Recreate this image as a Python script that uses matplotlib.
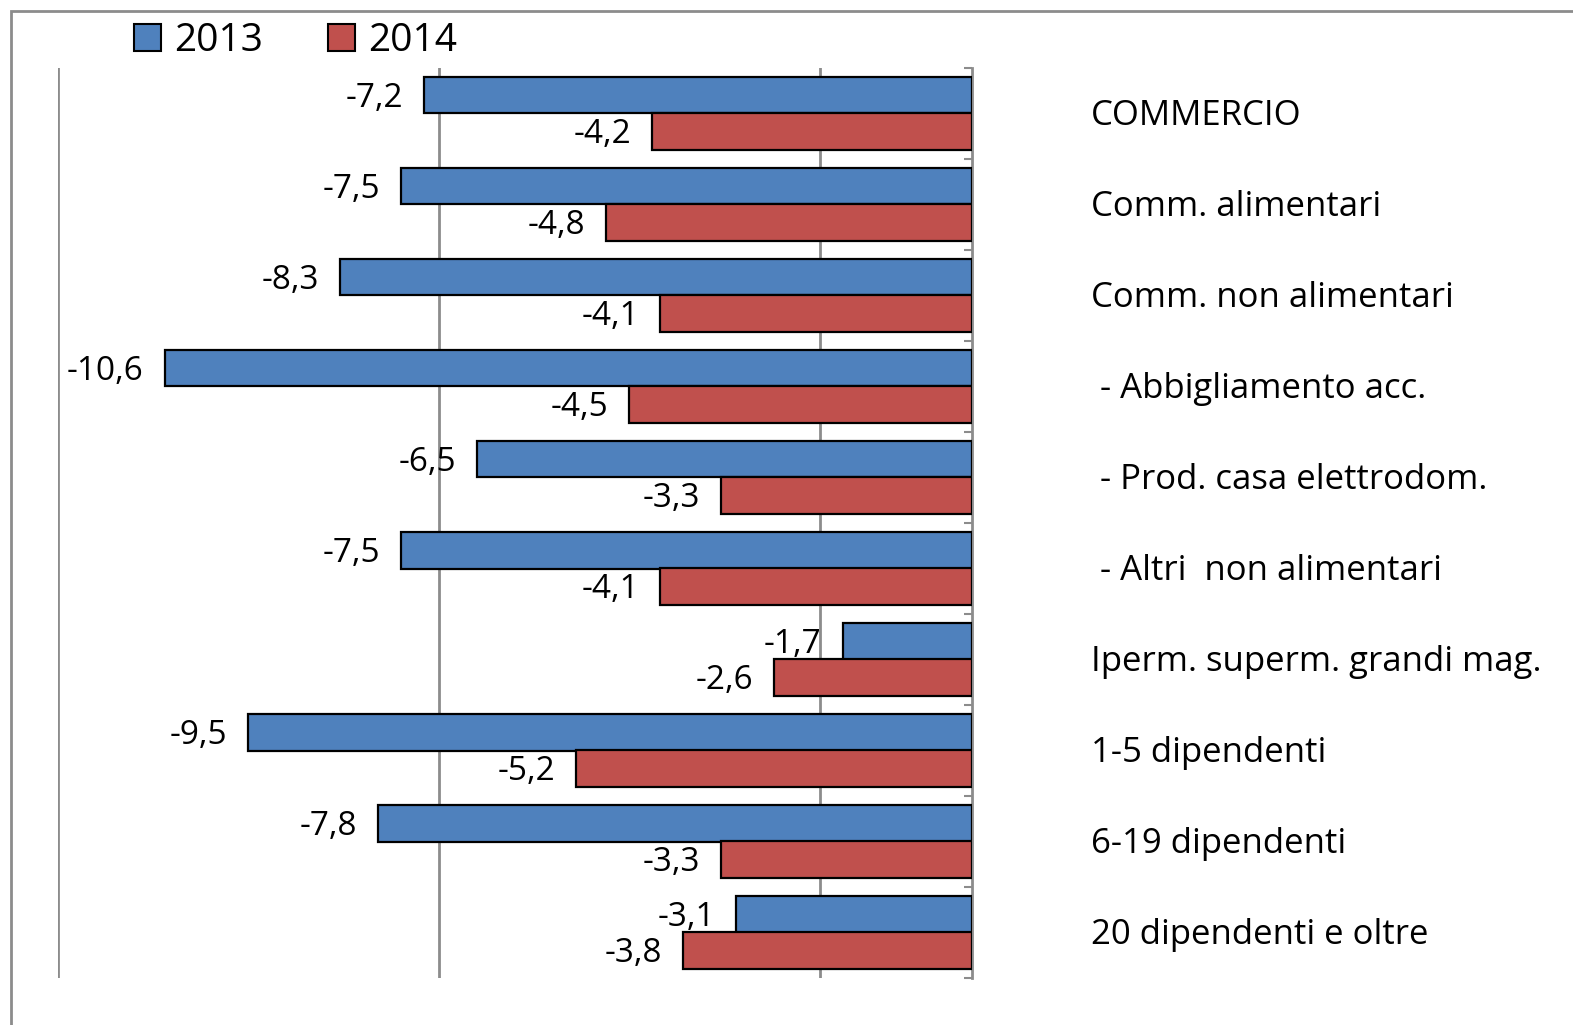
import matplotlib.pyplot as plt
import matplotlib.transforms as mtransforms
from matplotlib.patches import Rectangle
import numpy as np

plt.rcParams['font.family'] = ['Open Sans', 'DejaVu Sans']

categories = ["COMMERCIO", "Comm. alimentari", "Comm. non alimentari",
              " - Abbigliamento acc.", " - Prod. casa elettrodom.",
              " - Altri  non alimentari", "Iperm. superm. grandi mag.",
              "1-5 dipendenti", "6-19 dipendenti", "20 dipendenti e oltre"]
v2013 = [-7.2, -7.5, -8.3, -10.6, -6.5, -7.5, -1.7, -9.5, -7.8, -3.1]
v2014 = [-4.2, -4.8, -4.1, -4.5, -3.3, -4.1, -2.6, -5.2, -3.3, -3.8]
series = ["2013", "2014"]
colors = ["#4F81BD", "#C0504D"]

W, H = 1573, 1025
fig = plt.figure(figsize=(W / 100, H / 100), dpi=100)

# outer chart frame (right and bottom edges fall outside the image)
fig.patches.append(Rectangle((11 / W, -0.05), 1.2, 1 - 11 / H + 0.05,
                             transform=fig.transFigure, fill=False,
                             edgecolor="#8c8c8c", lw=2))

ax = fig.add_axes([58 / W, 1 - 978 / H, (972 - 58) / W, (978 - 68) / H])

n = len(categories)
y = np.arange(n)
bh = 0.4
for vals, off, col in [(v2013, -bh / 2, colors[0]), (v2014, bh / 2, colors[1])]:
    ax.barh(y + off, vals, height=bh, color=col, edgecolor="black", lw=1.6, zorder=3)
    for yi, v in zip(y + off, vals):
        ax.annotate(("%.1f" % v).replace(".", ","), (v, yi), xytext=(-15, -2),
                    textcoords="offset points", ha="right", va="center",
                    fontsize=24, zorder=4)

ax.set_xlim(-12, 0)
ax.set_ylim(n - 0.5, -0.5)
ax.set_xticks([-12, -7, -2])
ax.grid(axis="x", color="#8c8c8c", lw=2, zorder=0)
ax.tick_params(axis="x", length=0, labelbottom=False)
for s in ["top", "bottom", "left"]:
    ax.spines[s].set_visible(False)
ax.spines["right"].set_color("#8c8c8c")
ax.spines["right"].set_linewidth(2)
ax.yaxis.tick_right()
ax.set_yticks(np.arange(-0.5, n, 1))
ax.set_yticklabels([])
ax.tick_params(axis="y", direction="in", length=6, width=1.5, color="#8c8c8c")

tr = mtransforms.blended_transform_factory(ax.transAxes, ax.transData)
tr = tr + mtransforms.ScaledTranslation(0, -2 / 72, fig.dpi_scale_trans)
for yi, lab in zip(y, categories):
    ax.text(1.13, yi, lab, transform=tr, ha="left", va="center", fontsize=25)

handles = [Rectangle((0, 0), 1, 1, facecolor=c, edgecolor="black", lw=1.5) for c in colors]
fig.legend(handles, series, loc="center left", bbox_to_anchor=(134 / W, 1 - 41 / H),
           ncol=2, frameon=False, fontsize=28, handlelength=0.7, handleheight=0.7,
           handletextpad=0.33, columnspacing=1.67, borderpad=0, borderaxespad=0)

fig.savefig("out.png", dpi=100)
